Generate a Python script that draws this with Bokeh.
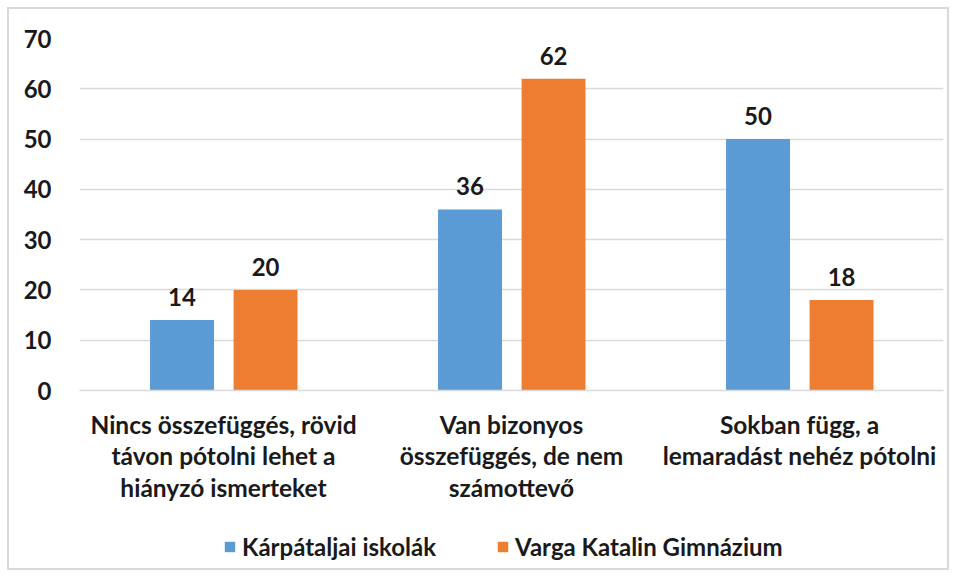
from bokeh.plotting import figure
from bokeh.layouts import column
from bokeh.models import FactorRange, ColumnDataSource, Legend, LegendItem, LabelSet, FixedTicker, Range1d
from bokeh.transform import dodge
from bokeh.core.properties import value
from bokeh.embed import file_html
from bokeh.resources import INLINE

categories = [
    "Nincs összefüggés, rövid\ntávon pótolni lehet a\nhiányzó ismerteket",
    "Van bizonyos\nösszefüggés, de nem\nszámottevő",
    "Sokban függ, a\nlemaradást nehéz pótolni",
]
series_names = ["Kárpátaljai iskolák", "Varga Katalin Gimnázium"]
karpataljai = [14, 36, 50]
varga = [20, 62, 18]
y_ticks = [0, 10, 20, 30, 40, 50, 60, 70]

BLUE = "#5B9BD5"
ORANGE = "#ED7D31"
TXT = "#1A1A1A"
FONT = "Lato"
FS = "24px"

src = ColumnDataSource(dict(
    cat=categories,
    a=karpataljai,
    b=varga,
    a_lbl=[str(v) for v in karpataljai],
    b_lbl=[str(v) for v in varga],
))

p = figure(
    x_range=FactorRange(*categories, range_padding=0),
    y_range=(0, 70),
    width=938, height=501,
    output_backend="svg", toolbar_location=None,
    min_border_left=70, min_border_right=4, min_border_top=29, min_border_bottom=120,
)
p.outline_line_color = None

p.vbar(x=dodge("cat", -0.144, range=p.x_range), top="a", width=0.222,
       source=src, fill_color=BLUE, line_color=None)
p.vbar(x=dodge("cat", 0.146, range=p.x_range), top="b", width=0.222,
       source=src, fill_color=ORANGE, line_color=None)

for col, lbl, off in (("a", "a_lbl", -0.144), ("b", "b_lbl", 0.146)):
    ls = LabelSet(x=dodge("cat", off, range=p.x_range), y=col, text=lbl, source=src,
                  text_align="center", text_baseline="bottom", y_offset=14,
                  text_font=value(FONT), text_font_style="bold", text_font_size=value(FS),
                  text_color=TXT)
    p.add_layout(ls)

p.yaxis.ticker = FixedTicker(ticks=y_ticks)
p.yaxis.axis_line_color = None
p.yaxis.major_tick_line_color = None
p.yaxis.minor_tick_line_color = None
p.yaxis.major_label_standoff = 22
p.yaxis.major_label_text_font = FONT
p.yaxis.major_label_text_font_style = "bold"
p.yaxis.major_label_text_font_size = FS
p.yaxis.major_label_text_color = TXT

p.xaxis.axis_line_color = "#D9D9D9"
p.xaxis.axis_line_width = 1.5
p.xaxis.major_tick_line_color = None
p.xaxis.minor_tick_line_color = None
p.xaxis.major_tick_in = 0
p.xaxis.major_tick_out = 0
p.xaxis.major_label_standoff = 19
p.xaxis.major_label_text_font = FONT
p.xaxis.major_label_text_font_style = "bold"
p.xaxis.major_label_text_font_size = "24.5px"
p.xaxis.major_label_text_color = TXT
p.xaxis.major_label_text_line_height = 1.1

p.xgrid.grid_line_color = None
p.ygrid.grid_line_color = "#D9D9D9"
p.ygrid.grid_line_width = 1.5

# separate strip for the legend (placeholder rows are NaN, so nothing is drawn)
lg = figure(
    x_range=Range1d(0, 1), y_range=Range1d(0, 1),
    width=938, height=58,
    output_backend="svg", toolbar_location=None,
    min_border=0,
)
lg.axis.visible = False
lg.grid.grid_line_color = None
lg.outline_line_color = None
placeholder = ColumnDataSource(dict(x=[float("nan")], top=[float("nan")]))
lr1 = lg.vbar(x="x", top="top", width=0.1, source=placeholder, fill_color=BLUE, line_color=None)
lr2 = lg.vbar(x="x", top="top", width=0.1, source=placeholder, fill_color=ORANGE, line_color=None)

legend = Legend(
    items=[LegendItem(label=series_names[0], renderers=[lr1], index=0),
           LegendItem(label=series_names[1], renderers=[lr2], index=0)],
    orientation="horizontal", location=(144, 7),
    border_line_color=None, background_fill_alpha=0,
    label_text_font=FONT, label_text_font_style="bold", label_text_font_size=FS,
    label_text_color=TXT, glyph_width=13, glyph_height=13, spacing=60,
    label_standoff=6, margin=0, padding=0,
)
lg.add_layout(legend, "center")

layout = column(p, lg, spacing=0,
                styles={"border": "2px solid #D9D9D9", "margin-left": "7px", "margin-top": "7px"})

open("out.html", "w").write(file_html(layout, INLINE))
